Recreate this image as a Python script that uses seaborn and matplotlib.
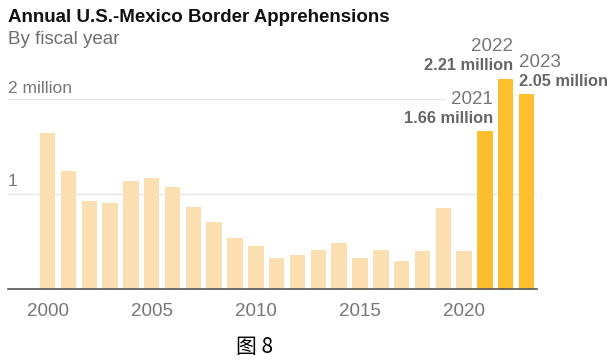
import matplotlib
matplotlib.use("Agg")
import matplotlib.pyplot as plt
import pandas as pd
import seaborn as sns

# Apprehensions by fiscal year, in millions
years = list(range(2000, 2024))
apprehensions = [1.64, 1.24, 0.93, 0.91, 1.14, 1.17, 1.07, 0.86, 0.71, 0.54,
                 0.45, 0.33, 0.36, 0.41, 0.48, 0.33, 0.41, 0.30, 0.40, 0.85,
                 0.40, 1.66, 2.21, 2.05]
highlight_years = [2021, 2022, 2023]
x_ticks = [2000, 2005, 2010, 2015, 2020]

light = "#FBDFB0"
dark = "#FDBF2D"
grey = "#777777"

df = pd.DataFrame({"year": years, "value": apprehensions})
df["group"] = ["recent" if y in highlight_years else "past" for y in years]

sns.set_style("white")
plt.rcParams["font.family"] = ["Liberation Sans", "DejaVu Sans"]

fig = plt.figure(figsize=(6.16, 3.63), dpi=100)
ax = fig.add_axes([8 / 616, 1 - 289 / 363, (537 - 8) / 616, (289 - 60) / 363])

# seaborn bars on a numeric axis via native_scale
sns.barplot(data=df, x="year", y="value", hue="group",
            palette={"past": light, "recent": dark}, native_scale=True,
            width=0.74, saturation=1, legend=False, ax=ax, zorder=2)
for p in ax.patches:
    p.set_edgecolor("none")

ax.set_xlim(1998.1, 2023.5)
ax.set_ylim(0, (289 - 60) / 95)

for v in [1, 2]:
    xmax = 1.0 if v == 1 else (445 - 8) / (537 - 8)
    ax.axhline(v, xmin=0, xmax=xmax, color="#e6e6e6", lw=1, zorder=1)
ax.text(1998.1, 2.03, "2 million", color=grey, fontsize=12.5, ha="left", va="bottom")
ax.text(1998.1, 1.05, "1", color=grey, fontsize=12.5, ha="left", va="bottom")

ax.set_yticks([])
ax.set_xticks(x_ticks)
ax.set_xticklabels([str(t) for t in x_ticks], color=grey, fontsize=13.5)
ax.tick_params(axis="x", length=5, width=1.2, color="#555555", pad=5)
ax.set_xlabel("")
ax.set_ylabel("")
for s in ["top", "right", "left"]:
    ax.spines[s].set_visible(False)
ax.spines["bottom"].set_color("#555555")
ax.spines["bottom"].set_linewidth(1.2)

# value labels on highlighted bars
half = 0.37
for y, v in zip(years, apprehensions):
    if y not in highlight_years:
        continue
    if y == 2023:
        xpos, ha = y - half, "left"
    else:
        xpos, ha = y + half, "right"
    ax.annotate(f"{v:.2f} million", (xpos, v), xytext=(0, 4),
                textcoords="offset points", ha=ha, va="bottom",
                fontsize=11.8, fontweight="bold", color="#666666")
    ax.annotate(str(y), (xpos, v), xytext=(0, 17),
                textcoords="offset points", ha=ha, va="bottom",
                fontsize=13.5, color=grey)

fig.text(8 / 616, 1 - 17 / 363, "Annual U.S.-Mexico Border Apprehensions",
         fontsize=13.5, fontweight="bold", color="#121212", va="center")
fig.text(8 / 616, 1 - 40 / 363, "By fiscal year", fontsize=13.5,
         color="#6e6e6e", va="center")
fig.text(255 / 616, 1 - 347 / 363, "图 8", fontsize=15, color="black",
         ha="center", va="center", family=["Noto Sans CJK SC", "DejaVu Sans"])

fig.savefig("out.png", dpi=100)
